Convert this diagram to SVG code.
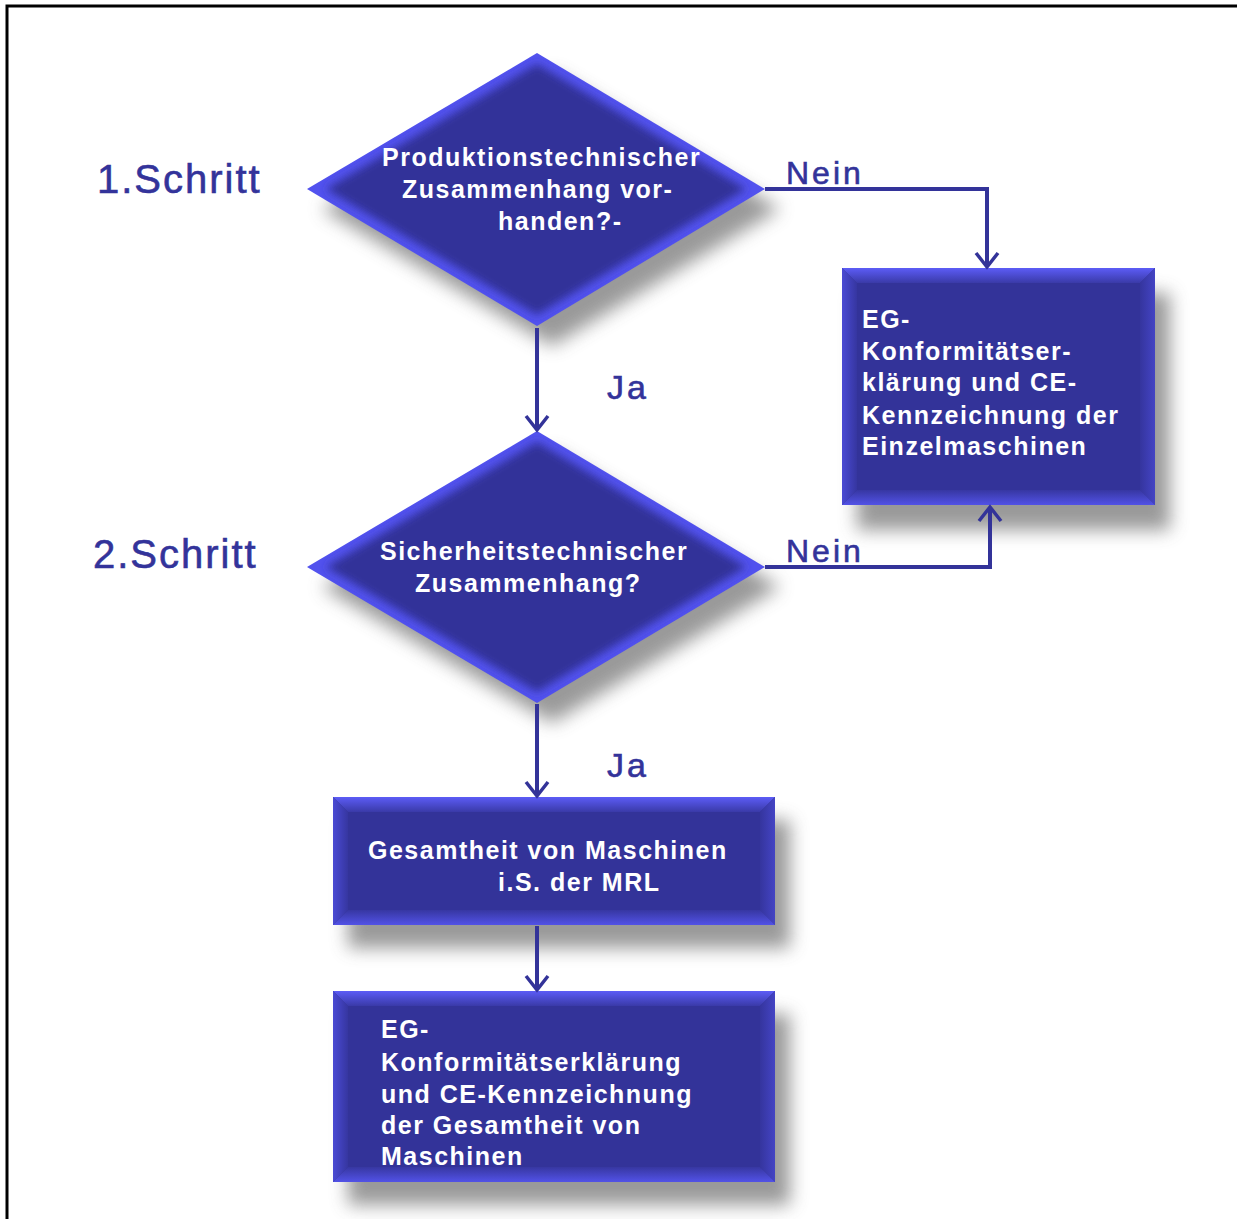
<svg xmlns="http://www.w3.org/2000/svg" width="1237" height="1219" viewBox="0 0 1237 1219">
<style>
.lbl{font-family:"Liberation Sans",Arial,sans-serif;fill:#33339a;stroke:#33339a;stroke-width:0.6px;}
.step{font-size:40px;letter-spacing:2px;}
.yn{font-size:32px;letter-spacing:3px;}
.ja{font-size:34px;letter-spacing:3px;}
.wt{font-family:"Liberation Sans",Arial,sans-serif;font-weight:bold;font-size:25px;letter-spacing:1.5px;fill:#ffffff;}
.conn{fill:none;stroke:#333399;stroke-width:4;stroke-linejoin:miter;}
.shadow{fill:#808080;opacity:0.8;filter:url(#blur);}
.core{fill:#333399;}
.dglow{fill:#5252ee;}
.dcore{fill:#333399;filter:url(#blur2);}
</style>
<defs>
<filter id="blur" x="-30%" y="-30%" width="160%" height="160%"><feGaussianBlur stdDeviation="9"/></filter>
<filter id="blur2" x="-20%" y="-20%" width="140%" height="140%"><feGaussianBlur stdDeviation="4"/></filter>
<linearGradient id="gTop" x1="0" y1="0" x2="0" y2="1"><stop offset="0" stop-color="#5c5cf6"/><stop offset="1" stop-color="#3a3aa8"/></linearGradient>
<linearGradient id="gBot" x1="0" y1="1" x2="0" y2="0"><stop offset="0" stop-color="#5252e6"/><stop offset="1" stop-color="#3737a2"/></linearGradient>
<linearGradient id="gLeft" x1="0" y1="0" x2="1" y2="0"><stop offset="0" stop-color="#4a4ad4"/><stop offset="1" stop-color="#3636a0"/></linearGradient>
<linearGradient id="gRight" x1="1" y1="0" x2="0" y2="0"><stop offset="0" stop-color="#4444c4"/><stop offset="1" stop-color="#35359e"/></linearGradient>
<clipPath id="cd1"><polygon points="537,53 765,189 537,326 307,189"/></clipPath>
<clipPath id="cd2"><polygon points="537,431 765,567 537,703 307,567"/></clipPath>
<marker id="arr" markerUnits="userSpaceOnUse" markerWidth="26" markerHeight="26" viewBox="0 0 26 26" refX="23" refY="13" orient="auto">
<path d="M9,2 L23,13 L9,24" fill="none" stroke="#333399" stroke-width="3.5"/>
</marker>
</defs>
<rect x="0" y="0" width="1237" height="1219" fill="#ffffff"/>
<rect x="7" y="6" width="1245" height="1235" fill="none" stroke="#000000" stroke-width="3"/>

<g id="labels">
<text class="lbl step" x="97" y="193">1.Schritt</text>
<text class="lbl step" x="93" y="568">2.Schritt</text>
</g>

<g id="node-d1">
<polygon class="shadow" points="552,73 780,209 552,346 322,209"/>
<polygon class="dglow" points="537,53 765,189 537,326 307,189"/>
<g clip-path="url(#cd1)"><polygon class="dcore" points="537,64 746,189 537,315 326,189"/></g>
<text class="wt" x="382" y="166">Produktionstechnischer</text>
<text class="wt" x="402" y="198">Zusammenhang vor-</text>
<text class="wt" x="498" y="230">handen?-</text>
</g>

<g id="node-d2">
<polygon class="shadow" points="552,451 780,587 552,723 322,587"/>
<polygon class="dglow" points="537,431 765,567 537,703 307,567"/>
<g clip-path="url(#cd2)"><polygon class="dcore" points="537,442 746,567 537,692 326,567"/></g>
<text class="wt" x="380" y="560">Sicherheitstechnischer</text>
<text class="wt" x="415" y="592">Zusammenhang?</text>
</g>

<g id="node-b1">
<rect class="shadow" x="857" y="293" width="313" height="237"/>
<rect class="core" x="842" y="268" width="313" height="237"/>
<polygon fill="url(#gTop)" points="842,268 1155,268 1140,283 857,283"/>
<polygon fill="url(#gLeft)" points="842,268 857,283 857,490 842,505"/>
<polygon fill="url(#gRight)" points="1155,268 1155,505 1140,490 1140,283"/>
<polygon fill="url(#gBot)" points="842,505 857,490 1140,490 1155,505"/>
<text class="wt" x="862" y="328">EG-</text>
<text class="wt" x="862" y="360">Konformitätser-</text>
<text class="wt" x="862" y="391">klärung und CE-</text>
<text class="wt" x="862" y="424">Kennzeichnung der</text>
<text class="wt" x="862" y="455">Einzelmaschinen</text>
</g>

<g id="node-b2">
<rect class="shadow" x="348" y="820" width="442" height="128"/>
<rect class="core" x="333" y="797" width="442" height="128"/>
<polygon fill="url(#gTop)" points="333,797 775,797 760,812 348,812"/>
<polygon fill="url(#gLeft)" points="333,797 348,812 348,910 333,925"/>
<polygon fill="url(#gRight)" points="775,797 775,925 760,910 760,812"/>
<polygon fill="url(#gBot)" points="333,925 348,910 760,910 775,925"/>
<text class="wt" x="368" y="859">Gesamtheit von Maschinen</text>
<text class="wt" x="498" y="891">i.S. der MRL</text>
</g>

<g id="node-b3">
<rect class="shadow" x="348" y="1014" width="442" height="191"/>
<rect class="core" x="333" y="991" width="442" height="191"/>
<polygon fill="url(#gTop)" points="333,991 775,991 760,1006 348,1006"/>
<polygon fill="url(#gLeft)" points="333,991 348,1006 348,1167 333,1182"/>
<polygon fill="url(#gRight)" points="775,991 775,1182 760,1167 760,1006"/>
<polygon fill="url(#gBot)" points="333,1182 348,1167 760,1167 775,1182"/>
<text class="wt" x="381" y="1038">EG-</text>
<text class="wt" x="381" y="1071">Konformitätserklärung</text>
<text class="wt" x="381" y="1103">und CE-Kennzeichnung</text>
<text class="wt" x="381" y="1134">der Gesamtheit von</text>
<text class="wt" x="381" y="1165">Maschinen</text>
</g>

<g id="connectors">
<polyline class="conn" points="765,189 987,189 987,267" marker-end="url(#arr)"/>
<line class="conn" x1="537" y1="328" x2="537" y2="430" marker-end="url(#arr)"/>
<polyline class="conn" points="765,567 990,567 990,507" marker-end="url(#arr)"/>
<line class="conn" x1="537" y1="704" x2="537" y2="796" marker-end="url(#arr)"/>
<line class="conn" x1="537" y1="926" x2="537" y2="990" marker-end="url(#arr)"/>
<text class="lbl yn" x="786" y="184">Nein</text>
<text class="lbl yn" x="786" y="562">Nein</text>
<text class="lbl ja" x="607" y="399">Ja</text>
<text class="lbl ja" x="607" y="777">Ja</text>
</g>
</svg>
